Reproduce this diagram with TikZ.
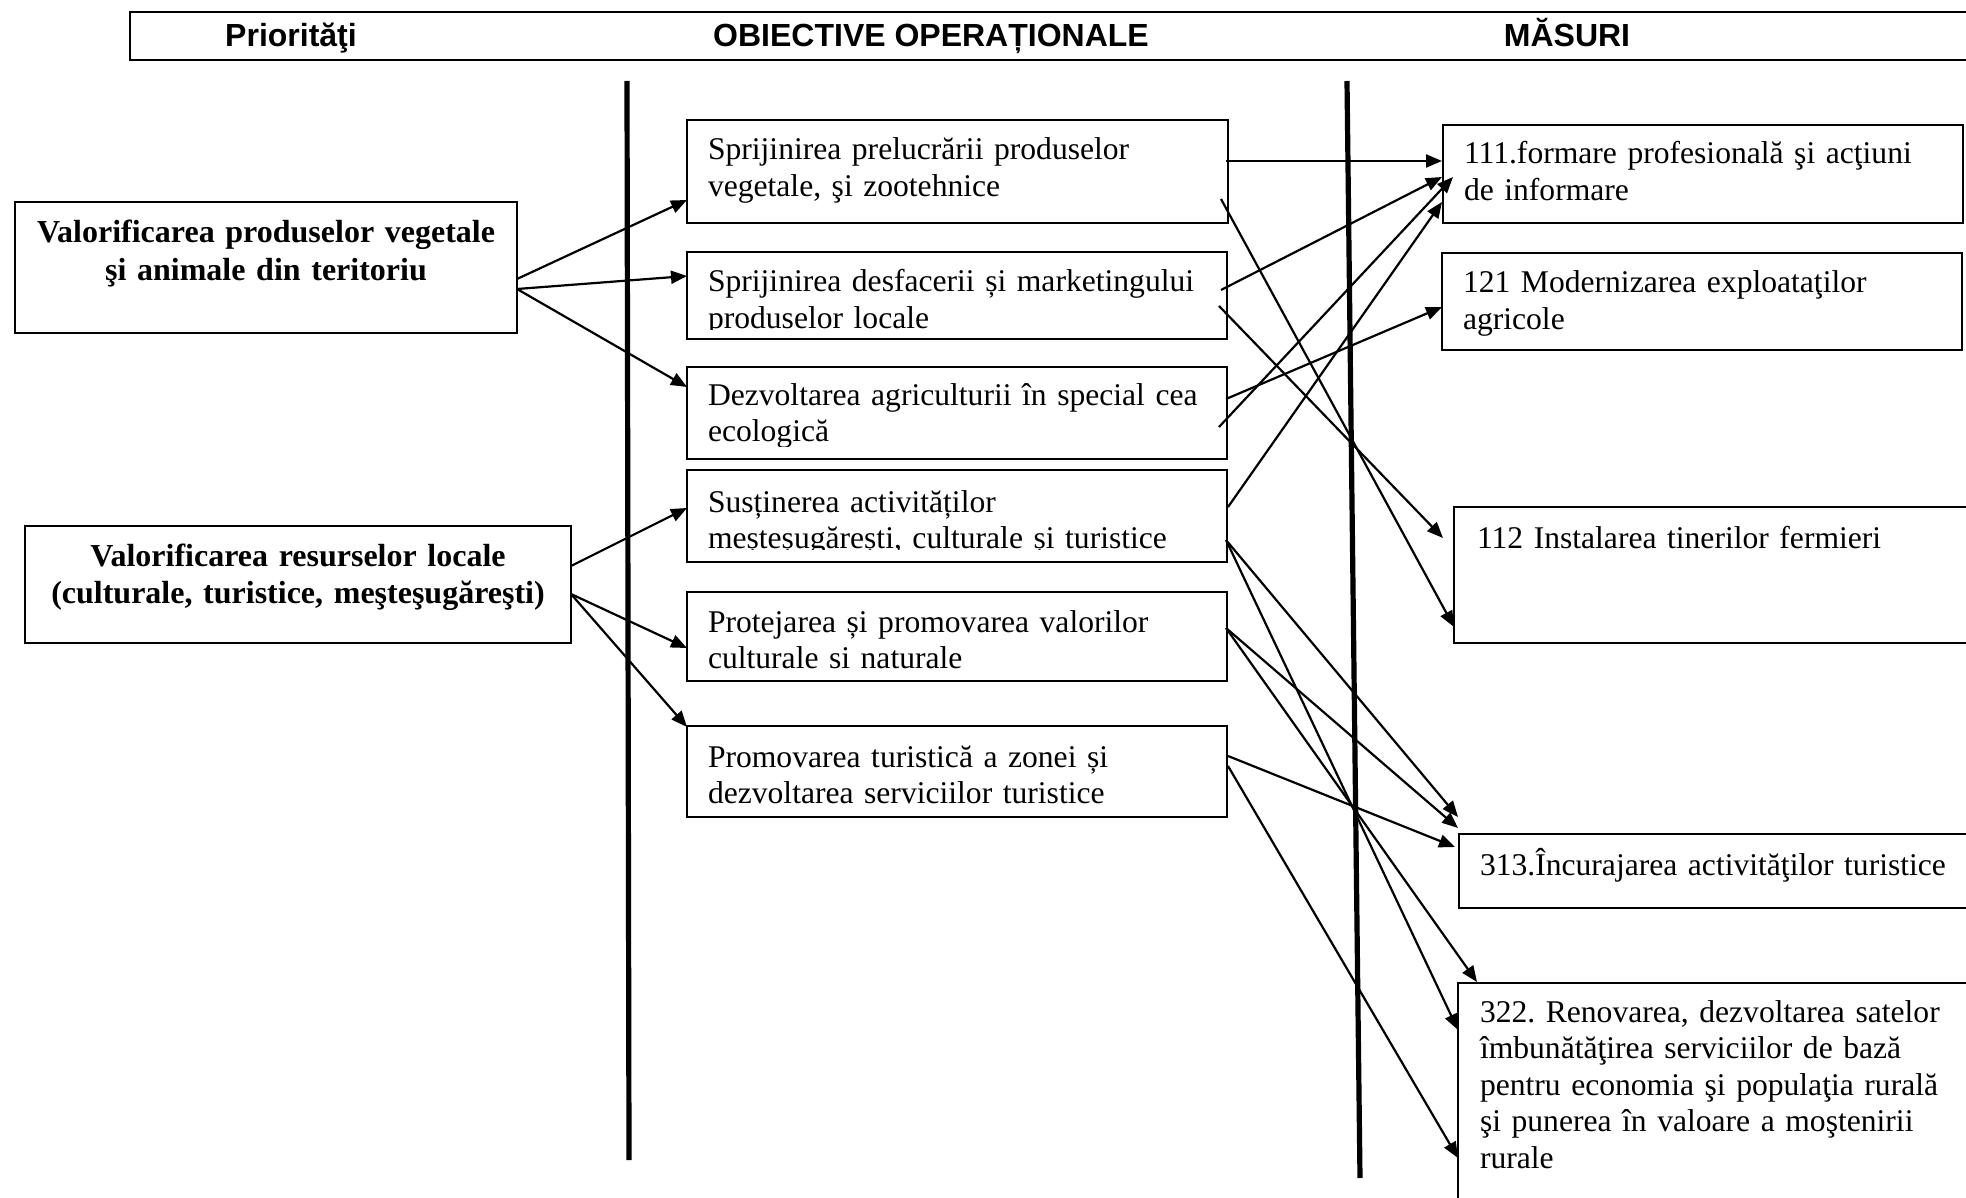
\documentclass[tikz,border=0pt]{standalone}
\usepackage{fontspec}
\setmainfont{Liberation Serif}
\newfontfamily\hdrfont{Liberation Sans}
\usetikzlibrary{fit,arrows.meta}
\begin{document}
\frenchspacing
\begin{tikzpicture}[x=0.5pt,y=-0.5pt,
  box/.style={draw, line width=0.6pt, inner sep=0pt, outer sep=0pt},
  hdrbox/.style={draw, line width=1pt, inner sep=0pt, outer sep=0pt},
  conn/.style={line width=1.1pt, -{Triangle[length=8pt,width=6.5pt]}},
  divider/.style={line width=2.6pt},
  txt/.style={inner sep=0pt, outer sep=0pt, anchor=base west, text width=300pt, align=left,
              font=\fontsize{15.8pt}{18.3pt}\selectfont\frenchspacing},
  ptxt/.style={inner sep=0pt, outer sep=0pt, anchor=base, text width=280pt, align=center,
              font=\bfseries\fontsize{16pt}{18.6pt}\selectfont},
  htxt/.style={inner sep=0pt, outer sep=0pt, anchor=base, font=\hdrfont\bfseries\fontsize{16pt}{19pt}\selectfont}]
\path[use as bounding box, clip] (0,0) rectangle (1966,1198);

% header
\node[hdrbox, fit={(130,12)(1990,60)}] (hdr) {};
\node[htxt] (h1) at (291,47) {Priorităţi};
\node[htxt] (h2) at (931,47) {OBIECTIVE OPERAȚIONALE};
\node[htxt] (h3) at (1567,47) {MĂSURI};

% dividers
\coordinate (d1a) at (627,81);  \coordinate (d1b) at (629,1160);
\coordinate (d2a) at (1347,81); \coordinate (d2b) at (1360,1178);
\draw[divider] (d1a) -- (d1b);
\draw[divider] (d2a) -- (d2b);

% priorities
\node[box, fit={(15,202)(517,333)}] (p1) {};
\node[ptxt] (tp1) at (266,243) {Valorificarea produselor vegetale\\ şi animale din teritoriu};
\node[box, fit={(25,526)(571,643)}] (p2) {};
\node[ptxt] (tp2) at (298,566) {Valorificarea resurselor locale\\ (culturale, turistice, meşteşugăreşti)};

% objectives
\node[box, fit={(687,120)(1228,223)}] (o1) {};
\node[txt] (to1) at (708,160) {Sprijinirea prelucrării produselor\\ vegetale, şi zootehnice};

\node[box, fit={(687,252)(1227,339)}] (o2) {};
\begin{scope}
  \clip (687,252) rectangle (1227,330);
  \node[txt] (to2) at (708,292) {Sprijinirea desfacerii și marketingului\\ produselor locale};
\end{scope}

\node[box, fit={(687,367)(1227,459)}] (o3) {};
\begin{scope}
  \clip (687,367) rectangle (1227,446);
  \node[txt] (to3) at (708,405) {Dezvoltarea agriculturii în special cea\\ ecologică};
\end{scope}

\node[box, fit={(687,470)(1227,562)}] (o4) {};
\begin{scope}
  \clip (687,470) rectangle (1227,549);
  \node[txt] (to4) at (708,512) {Susținerea activităților\\ meșteșugărești, culturale și turistice};
\end{scope}

\node[box, fit={(687,592)(1227,681)}] (o5) {};
\begin{scope}
  \clip (687,592) rectangle (1227,668);
  \node[txt] (to5) at (708,632) {Protejarea și promovarea valorilor\\ culturale și naturale};
\end{scope}

\node[box, fit={(687,726)(1227,817)}] (o6) {};
\node[txt] (to6) at (708,767) {Promovarea turistică a zonei și\\ dezvoltarea serviciilor turistice};

% measures
\node[box, fit={(1443,125)(1963,223)}] (m1) {};
\node[txt] (tm1) at (1464,164) {111.formare profesională şi acţiuni\\ de informare};
\node[box, fit={(1442,253)(1962,350)}] (m2) {};
\node[txt] (tm2) at (1463,293) {121 Modernizarea exploataţilor\\ agricole};
\node[box, fit={(1454,507)(1990,643)}] (m3) {};
\node[txt] (tm3) at (1477,548) {112 Instalarea tinerilor fermieri};
\node[box, fit={(1459,834)(1990,908)}] (m4) {};
\node[txt] (tm4) at (1480,875) {313.Încurajarea activităţilor turistice};
\node[box, fit={(1458,983)(1990,1220)}] (m5) {};
\node[txt] (tm5) at (1480,1022) {322. Renovarea, dezvoltarea satelor\\ îmbunătăţirea serviciilor de bază\\ pentru economia şi populaţia rurală\\ şi punerea în valoare a moştenirii\\ rurale};

% priorities -> objectives
\draw[conn] ([shift={(0,77)}]p1.north east) -- ([shift={(0,80)}]o1.north west);
\draw[conn] ([shift={(0,87)}]p1.north east) -- ([shift={(0,24)}]o2.north west);
\draw[conn] ([shift={(0,87)}]p1.north east) -- ([shift={(0,20)}]o3.north west);
\draw[conn] ([shift={(0,40)}]p2.north east) -- ([shift={(0,38)}]o4.north west);
\draw[conn] ([shift={(0,68)}]p2.north east) -- ([shift={(0,56)}]o5.north west);
\draw[conn] ([shift={(0,68)}]p2.north east) -- ([shift={(0,1)}]o6.north west);

% objectives -> measures
\draw[conn] ([shift={(-2,41)}]o1.north east) -- ([shift={(-1,36)}]m1.north west);
\draw[conn] ([shift={(-7,79)}]o1.north east) -- ([shift={(0,120)}]m3.north west);
\draw[conn] ([shift={(-6,38)}]o2.north east) -- ([shift={(-1,52)}]m1.north west);
\draw[conn] ([shift={(-8,54)}]o2.north east) -- ([shift={(-11,31)}]m3.north west);
\draw[conn] ([shift={(-1,32)}]o3.north east) -- ([shift={(0,54)}]m2.north west);
\draw[conn] ([shift={(-8,60)}]o3.north east) -- ([shift={(10,52)}]m1.north west);
\draw[conn] ([shift={(1,37)}]o4.north east) -- ([shift={(-1,77)}]m1.north west);
\draw[conn] ([shift={(-1,70)}]o4.north east) -- ([shift={(-1,-17)}]m4.north west);
\draw[conn] ([shift={(-1,70)}]o4.north east) -- ([shift={(0,47)}]m5.north west);
\draw[conn] ([shift={(-1,36)}]o5.north east) -- ([shift={(-1,-6)}]m4.north west);
\draw[conn] ([shift={(-1,36)}]o5.north east) -- ([shift={(19,-1)}]m5.north west);
\draw[conn] ([shift={(1,30)}]o6.north east) -- ([shift={(-4,13)}]m4.north west);
\draw[conn] ([shift={(1,40)}]o6.north east) -- ([shift={(0,175)}]m5.north west);
\end{tikzpicture}
\end{document}
